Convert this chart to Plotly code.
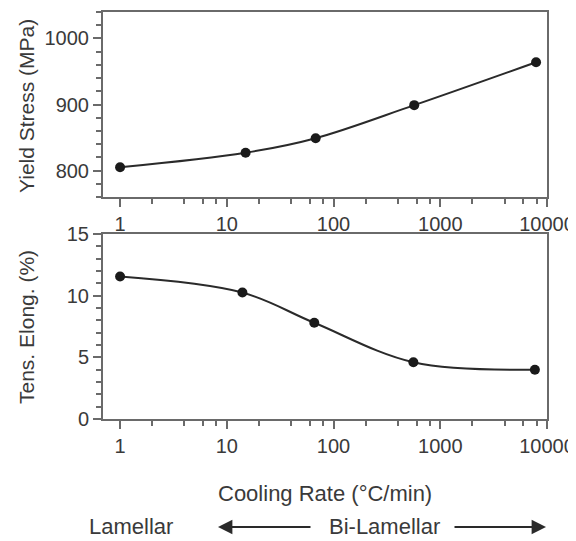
import plotly.graph_objects as go

# Data
rate_ys = [1, 15, 68, 570, 7900]          # cooling rate (°C/min) for yield stress
yield_stress = [805, 827, 849, 899, 964]  # MPa
rate_el = [1, 14, 66, 560, 7700]          # cooling rate (°C/min) for elongation
elongation = [11.55, 10.25, 7.8, 4.6, 4.0]  # %

x_ticks = [1, 10, 100, 1000, 10000]
x_ticklabels = ["1", "10", "100", "1000", "10000"]

FONT = "Liberation Sans, Arial, sans-serif"
TXT = "#3a3a3a"
AX = "#6a6a6a"

fig = go.Figure()
fig.add_trace(go.Scatter(x=rate_ys, y=yield_stress, mode="lines+markers",
                         line=dict(shape="spline", color="#2a2a2a", width=2),
                         marker=dict(size=10, color="#1a1a1a"),
                         xaxis="x", yaxis="y", showlegend=False, cliponaxis=False))
fig.add_trace(go.Scatter(x=rate_el, y=elongation, mode="lines+markers",
                         line=dict(shape="spline", color="#2a2a2a", width=2),
                         marker=dict(size=10, color="#1a1a1a"),
                         xaxis="x2", yaxis="y2", showlegend=False, cliponaxis=False))

# The page places the figure 8 px in from the window's top-left corner,
# so the figure is sized and laid out in window pixels minus that offset.
OFF = 8
W, H = 576 - OFF, 541 - OFF
ml, mr, mt, mb = 103 - OFF, 29, 12 - OFF, 122
pw = W - ml - mr
ph = H - mt - mb

def px_x(px):  # window pixel -> paper x
    return (px - OFF - ml) / pw

def px_y(py):  # window pixel -> paper y
    return (H - mb - (py - OFF)) / ph

minor_x = dict(ticks="outside", ticklen=5, tickwidth=1.5, tickcolor=AX,
               tickvals=[2, 4, 6, 8, 20, 40, 60, 80, 200, 400, 600, 800,
                         2000, 4000, 6000, 8000])
xcommon = dict(type="log", range=[-0.16, 4.0], tickvals=x_ticks, ticktext=x_ticklabels,
               ticks="outside", ticklen=8, tickwidth=1.5, tickcolor=AX,
               showline=True, linecolor=AX, linewidth=2, mirror=True,
               showgrid=False, zeroline=False, automargin=False,
               tickfont=dict(family=FONT, size=20, color=TXT),
               minor=minor_x)

ycommon = dict(ticks="outside", ticklen=8, tickwidth=1.5, tickcolor=AX,
               showline=True, linecolor=AX, linewidth=2, mirror=True,
               showgrid=False, zeroline=False, automargin=False,
               tickfont=dict(family=FONT, size=20, color=TXT))

fig.update_layout(
    width=W, height=H,
    margin=dict(l=ml, r=mr, t=mt, b=mb),
    paper_bgcolor="white", plot_bgcolor="white",
    xaxis=dict(domain=[0, 1], anchor="y", **xcommon),
    xaxis2=dict(domain=[0, 1], anchor="y2", **xcommon),
    yaxis=dict(domain=[px_y(197), 1.0], anchor="x", range=[760, 1040],
               tickvals=[800, 900, 1000],
               minor=dict(ticks="outside", ticklen=5, tickwidth=1.5, tickcolor=AX,
                          dtick=20, tick0=0), **ycommon),
    yaxis2=dict(domain=[0, px_y(234)], anchor="x2", range=[0, 15],
                tickvals=[0, 5, 10, 15],
                minor=dict(ticks="outside", ticklen=5, tickwidth=1.5, tickcolor=AX,
                           dtick=1, tick0=0), **ycommon),
)

def label(text, x, y, angle=0, size=21):
    return dict(text=text, x=px_x(x), y=px_y(y), xref="paper", yref="paper",
                xanchor="center", yanchor="middle", showarrow=False, textangle=angle,
                font=dict(family=FONT, size=size, color=TXT))

ann = [
    label("Yield Stress (MPa)", 26, 106, -90, 21),
    label("Tens. Elong. (%)", 26, 327, -90, 21),
    label("Cooling Rate (°C/min)", 325, 493, 0, 22),
    label("Lamellar", 131, 526, 0, 22),
    label("Bi-Lamellar", 384, 526, 0, 22),
]
# arrows (tail offsets in pixels)
ann.append(dict(text="", x=px_x(218), y=px_y(527), ax=94, ay=0,
                xref="paper", yref="paper", axref="pixel", ayref="pixel",
                showarrow=True, arrowhead=2, arrowsize=1.6, arrowwidth=1.8, arrowcolor="#2a2a2a"))
ann.append(dict(text="", x=px_x(546), y=px_y(527), ax=-93, ay=0,
                xref="paper", yref="paper", axref="pixel", ayref="pixel",
                showarrow=True, arrowhead=2, arrowsize=1.6, arrowwidth=1.8, arrowcolor="#2a2a2a"))
fig.update_layout(annotations=ann)

fig.write_html("out.html")
